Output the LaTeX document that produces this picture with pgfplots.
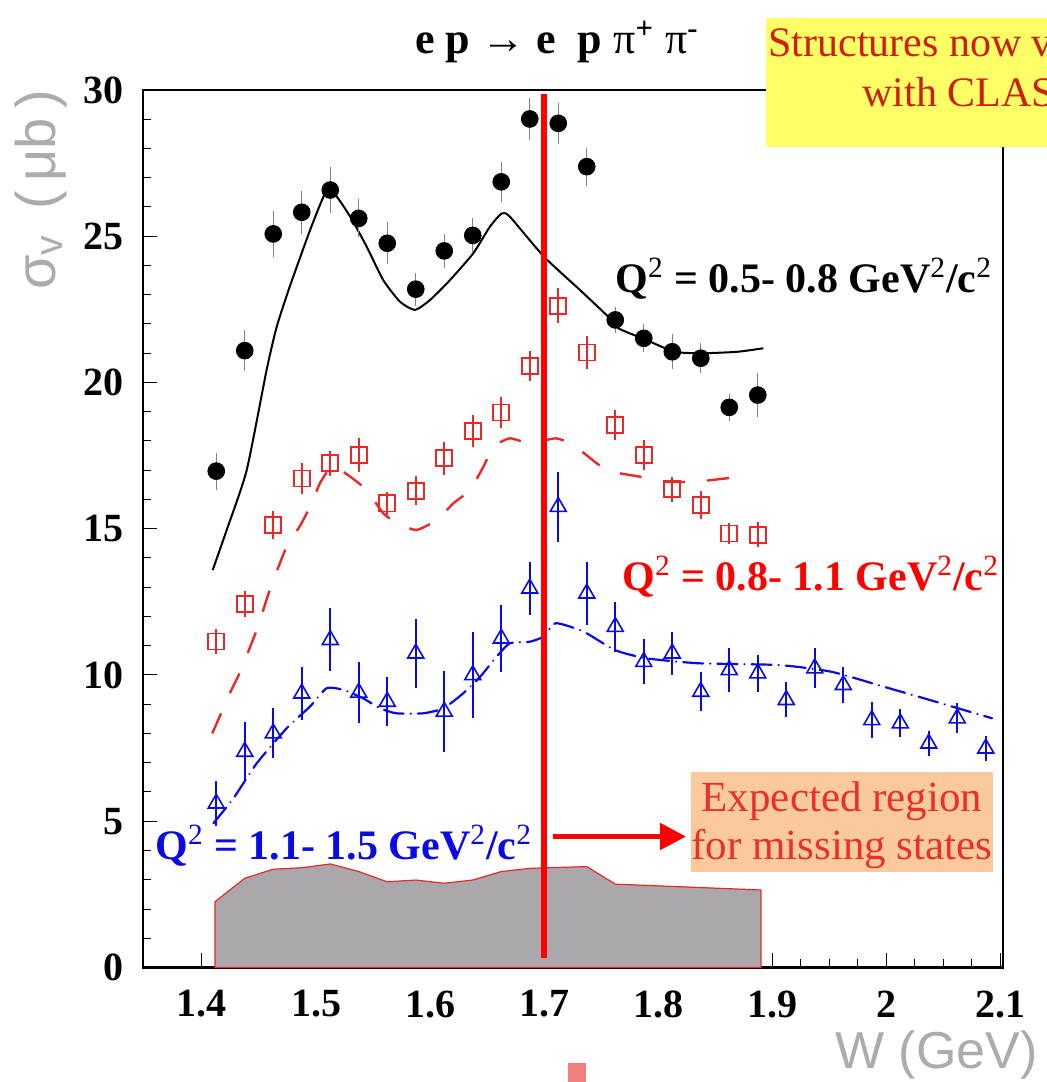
\documentclass[border=0pt]{standalone}
\usepackage{fontspec}
\setmainfont{Liberation Serif}
\setsansfont{Liberation Sans}
\usepackage{pgfplots}
\pgfplotsset{compat=1.18}
\usepackage{pgfplotstable}
\usetikzlibrary{arrows.meta}

\definecolor{datared}{RGB}{235,40,40}
\definecolor{datablue}{RGB}{10,10,230}
\definecolor{histgray}{RGB}{170,168,172}
\definecolor{lblgray}{RGB}{172,172,172}
\definecolor{boxyellow}{RGB}{255,255,102}
\definecolor{boxpeach}{RGB}{251,201,158}
\definecolor{notered}{RGB}{205,30,10}
\definecolor{expred}{RGB}{232,50,40}
\definecolor{pinkmark}{RGB}{242,128,128}

% Q^2 = 0.5-0.8
\pgfplotstableread{
W    sig    err
1.4125 16.97 0.63
1.4375 21.09 0.71
1.4625 25.08 0.80
1.4875 25.82 0.74
1.5125 26.58 0.79
1.5375 25.61 0.65
1.5625 24.76 0.71
1.5875 23.19 0.57
1.6125 24.50 0.57
1.6375 25.03 0.60
1.6625 26.86 0.68
1.6875 29.01 0.71
1.7125 28.86 0.71
1.7375 27.38 0.65
1.7625 22.14 0.45
1.7875 21.51 0.48
1.8125 21.05 0.60
1.8375 20.83 0.51
1.8625 19.15 0.45
1.8875 19.57 0.74
}\lowq

% Q^2 = 0.8-1.1
\pgfplotstableread{
W    sig    err
1.4125 11.14 0.43
1.4375 12.43 0.45
1.4625 15.13 0.48
1.4875 16.72 0.54
1.5125 17.24 0.43
1.5375 17.52 0.57
1.5625 15.87 0.40
1.5875 16.30 0.50
1.6125 17.41 0.57
1.6375 18.35 0.54
1.6625 18.97 0.54
1.6875 20.56 0.51
1.7125 22.62 0.60
1.7375 21.02 0.57
1.7625 18.55 0.51
1.7875 17.52 0.51
1.8125 16.35 0.43
1.8375 15.81 0.48
1.8625 14.84 0.37
1.8875 14.79 0.43
}\midq

% Q^2 = 1.1-1.5
\pgfplotstableread{
W    sig    err
1.4125 5.61 0.77
1.4375 7.38 1.00
1.4625 8.01 0.85
1.4875 9.37 0.90
1.5125 11.20 1.08
1.5375 9.40 1.03
1.5625 9.09 0.83
1.5875 10.74 1.17
1.6125 8.75 1.37
1.6375 10.00 1.48
1.6625 11.25 1.14
1.6875 12.96 0.91
1.7125 15.75 1.20
1.7375 12.79 1.08
1.7625 11.65 0.85
1.7875 10.45 0.77
1.8125 10.74 0.74
1.8375 9.43 0.66
1.8625 10.17 0.74
1.8875 10.06 0.63
1.9125 9.15 0.60
1.9375 10.23 0.68
1.9625 9.66 0.63
1.9875 8.46 0.60
2.0125 8.35 0.48
2.0375 7.66 0.43
2.0625 8.52 0.51
2.0875 7.49 0.43
}\highq

\begin{document}
\begin{tikzpicture}
\begin{axis}[
    at={(0,0)}, anchor=south west,
    scale only axis, width=430pt, height=438.75pt,
    xmin=1.34825, xmax=2.1026, ymin=0, ymax=30,
    xtick={1.4,1.5,1.6,1.7,1.8,1.9,2.0,2.1},
    ytick={0,5,10,15,20,25,30},
    minor x tick num=3, minor y tick num=4,
    tick align=inside, xtick pos=left, ytick pos=left,
    major tick length=7pt, minor tick length=4pt,
    tick style={black, line width=0.5pt},
    axis line style={line width=1.4pt},
    /pgf/number format/assume math mode=true,
    ticklabel style={font=\bfseries\fontsize{20}{20}\selectfont},
    xticklabel style={yshift=-8pt},
    yticklabel style={xshift=-6pt},
    clip=false,
]

% estimated background
\addplot[fill=histgray, draw=datared, line width=0.6pt] coordinates {
(1.4114,2.25) (1.4375,3.05) (1.4625,3.36) (1.4875,3.41) (1.5125,3.54)
(1.5375,3.28) (1.5625,2.93) (1.5875,2.99) (1.6125,2.88) (1.6375,2.99)
(1.6625,3.28) (1.6875,3.39) (1.7125,3.42) (1.7375,3.45) (1.7625,2.85)
(1.8903,2.65)} \closedcycle;

% model curves
\addplot[black, line width=1pt, smooth, tension=0.35] coordinates {
(1.4094,13.59) (1.4217,14.96) (1.4392,17.0) (1.4567,20.43) (1.4655,21.9)
(1.477,23.28) (1.4947,25.2) (1.508,26.47) (1.515,26.52) (1.53,25.67)
(1.5445,24.64) (1.559,23.5) (1.5737,22.76) (1.5868,22.48) (1.6,22.82)
(1.6175,23.5) (1.638,24.42) (1.6526,25.33) (1.6629,25.78) (1.670,25.67)
(1.7,24.3) (1.7316,23.16) (1.7563,22.25) (1.7654,21.85) (1.79,21.45)
(1.8145,21.05) (1.839,21.0) (1.8696,21.05) (1.8924,21.17)};

\addplot[datared, line width=1.2pt, smooth, tension=0.35,
    dash pattern=on 11pt off 11pt] coordinates {
(1.409,8.0) (1.4245,9.38) (1.433,10.07) (1.448,11.54) (1.46,12.97)
(1.4743,14.39) (1.486,15.1) (1.4947,15.75) (1.5035,16.56) (1.512,17.07)
(1.516,17.15) (1.53,16.78) (1.5445,16.32) (1.559,15.53) (1.5708,15.2)
(1.588,14.96) (1.606,15.3) (1.6205,15.87) (1.635,16.32) (1.6468,17.12)
(1.6556,17.8) (1.670,18.09) (1.6877,17.92) (1.7104,18.09) (1.7257,17.86)
(1.7502,17.12) (1.759,16.95) (1.7839,16.78) (1.805,16.61) (1.8328,16.61)
(1.8726,16.78)};

\addplot[datablue, line width=1.1pt, line cap=round, smooth, tension=0.35,
    dash pattern=on 10pt off 3.5pt on 0.1pt off 3.5pt] coordinates {
(1.41,4.93) (1.4275,5.78) (1.448,6.98) (1.4743,8.18) (1.4947,8.92)
(1.5094,9.55) (1.524,9.49) (1.5415,9.2) (1.556,8.86) (1.5708,8.69)
(1.594,8.69) (1.6117,8.86) (1.629,9.37) (1.644,9.94) (1.6585,10.63)
(1.670,11.08) (1.6877,11.14) (1.6994,11.31) (1.7104,11.77) (1.7348,11.48)
(1.7624,10.85) (1.79,10.57) (1.8359,10.4) (1.9062,10.34) (1.9522,10.11)
(1.998,9.6) (2.038,9.15) (2.093,8.52)};

% data
\addplot[only marks, mark=*, mark size=4.2pt, black,
    error bars/.cd, y dir=both, y explicit,
    error bar style={gray, line width=0.6pt}, error mark=none]
    table[x=W, y=sig, y error=err] {\lowq};

\addplot[only marks, mark=square, mark size=4pt, datared,
    mark options={fill=white, line width=0.8pt},
    error bars/.cd, y dir=both, y explicit,
    error bar style={datared, line width=0.8pt}, error mark=none]
    table[x=W, y=sig, y error=err] {\midq};

\addplot[only marks, mark=triangle, mark size=4.6pt, datablue,
    mark options={line width=0.8pt},
    error bars/.cd, y dir=both, y explicit,
    error bar style={datablue, line width=0.8pt}, error mark=none]
    table[x=W, y=sig, y error=err] {\highq};

% marker line at W = 1.7
\addplot[red, line width=3.4pt] coordinates {(1.7,0.33) (1.7,29.85)};
\end{axis}

% pixel frame of the reference: 1 px = 0.5 pt, origin at top left
\begin{scope}[x=0.5pt,y=-0.5pt,shift={(-71.5pt,483.75pt)}]
% title
\node[anchor=base west, inner sep=0pt, font=\bfseries\fontsize{22}{22}\selectfont]
  at (415,54) {e p → e\enspace p {\mdseries π}\textsuperscript{+} {\mdseries π}\textsuperscript{-}};

% yellow note, cut by the right edge as in the reference
\fill[boxyellow] (766,18) rectangle (1200,147);
\node[anchor=base west, inner sep=0pt, text=notered, font=\fontsize{21}{21}\selectfont]
  at (768,57) {Structures now visible};
\node[anchor=base west, inner sep=0pt, text=notered, font=\fontsize{21}{21}\selectfont]
  at (862,107) {with CLAS};

% Q^2 labels
\node[anchor=base west, inner sep=0pt, font=\bfseries\fontsize{21}{21}\selectfont]
  at (615,293) {Q\textsuperscript{\mdseries 2} = 0.5- 0.8 GeV\textsuperscript{\mdseries 2}/c\textsuperscript{\mdseries 2}};
\node[anchor=base west, inner sep=0pt, text=red, font=\bfseries\fontsize{21}{21}\selectfont]
  at (622,591) {Q\textsuperscript{\mdseries 2} = 0.8- 1.1 GeV\textsuperscript{\mdseries 2}/c\textsuperscript{\mdseries 2}};
\node[anchor=base west, inner sep=0pt, text=datablue, font=\bfseries\fontsize{21}{21}\selectfont]
  at (155,860) {Q\textsuperscript{\mdseries 2} = 1.1- 1.5 GeV\textsuperscript{\mdseries 2}/c\textsuperscript{\mdseries 2}};

% expected region
\fill[boxpeach] (691,772) rectangle (993,872);
\node[anchor=base, inner sep=0pt, text=expred, font=\fontsize{21.5}{21.5}\selectfont]
  at (842,812) {Expected region};
\node[anchor=base, inner sep=0pt, text=expred, font=\fontsize{21.5}{21.5}\selectfont]
  at (842,860) {for missing states};
\draw[red, line width=2.6pt, -{Triangle[length=13pt, width=13pt]}] (553,836.5) -- (686,836.5);

% axis titles
\node[rotate=90, inner sep=0pt, text=lblgray, font=\sffamily\fontsize{28}{28}\selectfont]
  at (41,190) {σ\textsubscript{v}\, (\,μb\,)};
\node[anchor=base west, inner sep=0pt, text=lblgray, font=\sffamily\fontsize{26}{26}\selectfont]
  at (835,1068) {W (GeV)};

% small mark below the axis
\fill[pinkmark] (568,1063) rectangle (586,1090);

\pgfresetboundingbox
\useasboundingbox (0,0) rectangle (1047,1082);
\end{scope}
\end{tikzpicture}
\end{document}
